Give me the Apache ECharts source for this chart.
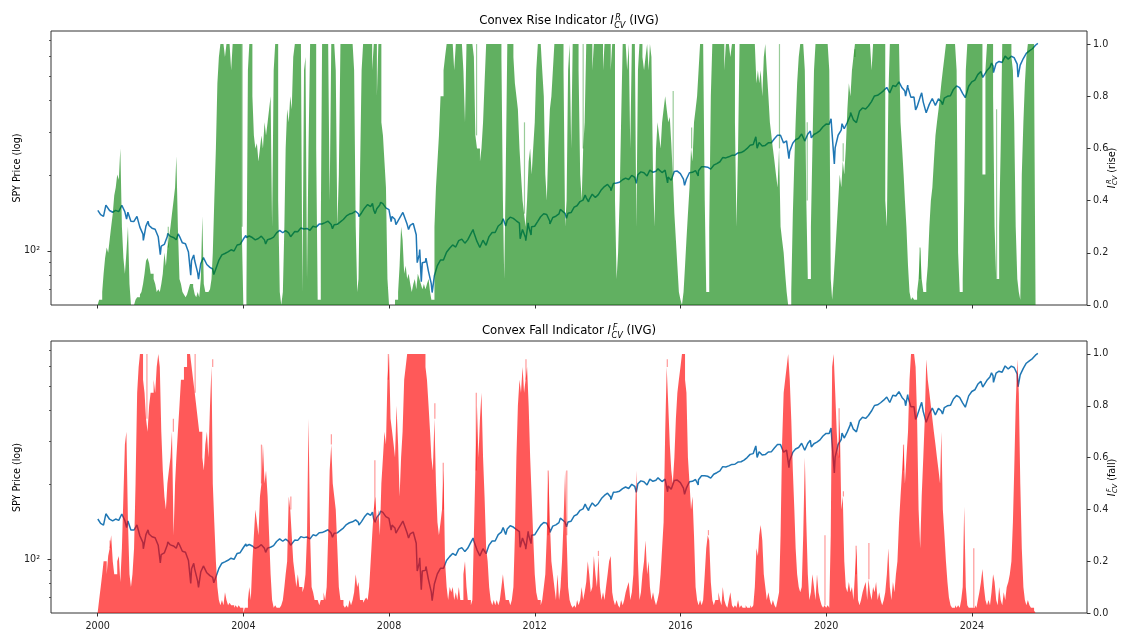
<!DOCTYPE html>
<html>
<head>
<meta charset="utf-8">
<script src="https://cdn.jsdelivr.net/npm/echarts@6/dist/echarts.min.js"></script>
<style>
  html, body { margin: 0; padding: 0; background: #ffffff; }
  #chart { width: 1125px; height: 631px; }
</style>
</head>
<body>
<div id="chart"></div>
<script>
// ---------------------------------------------------------------------------
// Data
// ---------------------------------------------------------------------------

// SPY month-end closes, Jan 2000 .. Sep 2025 (one row per year)
const spyMonthEnd = [
  [139.6, 137.4, 150.4, 145.1, 142.8, 145.3, 143.6, 152.3, 143.6, 142.8, 131.3, 131.2],
  [136.9, 124.5, 116.7, 125.7, 126.4, 123.3, 122.1, 114.0, 104.4, 106.1, 114.1, 114.3],
  [113.2, 110.8, 114.7, 107.7, 106.8, 98.9, 91.5, 91.5, 81.8, 88.8, 94.0, 88.2],
  [85.9, 84.6, 84.7, 91.6, 96.4, 97.6, 99.1, 101.0, 99.9, 105.6, 106.3, 111.3],
  [113.1, 114.7, 113.1, 110.7, 112.1, 114.5, 110.7, 110.9, 111.8, 113.5, 118.0, 120.9],
  [118.2, 120.6, 118.0, 115.8, 119.5, 119.2, 123.4, 122.3, 123.0, 120.9, 125.5, 124.5],
  [128.0, 128.1, 129.8, 131.5, 127.5, 127.3, 127.8, 130.7, 133.6, 138.0, 140.4, 141.6],
  [144.2, 140.9, 141.9, 148.3, 153.3, 150.4, 145.7, 147.6, 152.6, 154.6, 148.7, 146.2],
  [137.4, 133.8, 132.0, 138.3, 140.4, 128.0, 126.5, 128.8, 116.0, 96.8, 89.6, 90.2],
  [82.8, 73.9, 79.5, 87.3, 91.9, 91.9, 98.8, 102.5, 105.6, 103.6, 109.9, 111.4],
  [107.4, 110.7, 117.0, 118.8, 109.4, 103.2, 110.3, 105.3, 114.1, 118.5, 118.5, 125.8],
  [128.7, 133.2, 132.6, 136.5, 134.9, 132.0, 129.3, 121.9, 113.2, 125.5, 124.9, 125.5],
  [131.3, 137.0, 140.8, 139.9, 131.5, 136.1, 137.7, 140.6, 144.0, 141.4, 141.5, 142.4],
  [149.7, 151.6, 157.6, 159.7, 163.5, 160.4, 168.7, 163.7, 168.0, 175.8, 181.0, 184.7],
  [178.2, 186.3, 187.0, 188.3, 192.7, 195.7, 193.1, 200.7, 197.0, 201.7, 207.2, 205.5],
  [199.4, 210.7, 206.4, 208.5, 211.1, 205.9, 210.5, 197.7, 191.6, 207.9, 208.7, 203.9],
  [193.7, 193.6, 205.5, 206.3, 209.8, 209.5, 217.1, 217.4, 216.3, 212.6, 220.4, 223.5],
  [227.5, 236.5, 235.7, 238.1, 241.4, 241.8, 246.8, 247.5, 251.2, 257.2, 265.0, 266.9],
  [281.9, 271.7, 263.2, 264.5, 270.9, 271.3, 281.3, 290.3, 290.7, 270.6, 275.7, 249.9],
  [269.9, 278.7, 282.5, 294.0, 275.3, 293.0, 297.4, 292.5, 296.8, 303.3, 314.3, 321.9],
  [321.7, 296.3, 258.4, 290.5, 304.3, 308.4, 326.5, 349.3, 334.9, 326.5, 362.1, 373.9],
  [370.1, 380.4, 396.3, 417.3, 420.0, 428.1, 438.5, 451.6, 429.1, 459.3, 455.6, 475.0],
  [449.9, 436.6, 451.6, 412.0, 412.9, 377.3, 412.0, 395.2, 357.2, 386.2, 407.7, 382.4],
  [406.5, 396.3, 409.4, 415.9, 418.0, 443.3, 457.8, 450.4, 427.5, 418.2, 456.4, 475.3],
  [482.9, 508.1, 523.1, 502.0, 527.4, 544.2, 550.8, 563.7, 573.8, 568.6, 602.6, 586.1],
  [601.8, 594.2, 559.4, 554.5, 589.4, 617.9, 632.1, 645.1, 666.2]
];

// SPY closes on intra-month turning points (first and last session included)
const spyTurns = [
  ['2000-01-03', 145.4], ['2000-03-24', 152.6], ['2000-09-01', 152.4], ['2000-10-18', 134.1],
  ['2001-01-30', 137.5], ['2001-04-04', 110.2], ['2001-05-21', 131.4], ['2001-09-21', 96.6],
  ['2001-12-05', 117.5], ['2002-03-19', 117.0], ['2002-07-23', 79.9], ['2002-08-22', 96.3],
  ['2002-10-09', 77.1], ['2002-11-27', 94.0], ['2003-03-11', 80.4], ['2004-01-26', 115.3],
  ['2004-08-12', 106.6], ['2005-04-20', 113.9], ['2006-05-05', 132.5], ['2006-06-13', 122.7],
  ['2007-02-20', 146.0], ['2007-03-05', 137.3], ['2007-07-19', 155.0], ['2007-08-15', 141.0],
  ['2007-10-09', 156.5], ['2008-01-22', 131.0], ['2008-03-10', 127.4], ['2008-05-19', 142.6],
  ['2008-07-15', 121.8], ['2008-10-10', 89.7], ['2008-11-04', 101.3], ['2008-11-20', 75.3],
  ['2009-01-06', 93.5], ['2009-03-09', 68.1], ['2010-04-23', 121.8], ['2010-07-02', 102.2],
  ['2011-02-18', 134.4], ['2011-03-16', 125.8], ['2011-08-08', 111.8], ['2011-10-03', 109.9],
  ['2011-10-27', 129.6], ['2011-11-25', 115.7], ['2012-04-02', 141.8], ['2012-06-01', 128.2],
  ['2012-09-14', 146.6], ['2012-11-15', 135.2], ['2013-05-21', 167.2], ['2013-06-24', 157.1],
  ['2014-02-03', 174.2], ['2014-09-18', 201.0], ['2014-10-15', 186.4], ['2015-05-21', 213.1],
  ['2015-08-25', 187.3], ['2015-11-03', 210.9], ['2016-02-11', 182.9], ['2016-06-27', 199.6],
  ['2018-01-26', 286.6], ['2018-02-08', 257.6], ['2018-09-20', 293.6], ['2018-12-24', 234.3],
  ['2019-05-03', 294.0], ['2019-06-03', 274.6], ['2019-07-26', 302.0], ['2019-08-05', 283.8],
  ['2020-02-19', 338.3], ['2020-03-23', 223.0], ['2020-06-08', 323.2], ['2020-09-02', 358.0],
  ['2021-09-02', 453.1], ['2021-10-04', 428.6], ['2022-01-03', 477.7], ['2022-03-08', 416.3],
  ['2022-03-29', 461.6], ['2022-06-16', 366.7], ['2022-08-16', 429.7], ['2022-10-12', 356.6],
  ['2022-12-01', 407.4], ['2023-03-13', 385.4], ['2023-10-27', 410.7], ['2024-04-19', 495.2],
  ['2024-07-16', 564.9], ['2024-08-05', 517.4], ['2024-12-06', 607.8], ['2025-02-19', 612.9],
  ['2025-04-08', 496.5], ['2025-10-24', 677.3]
];

// Convex rise indicator, half-month steps (1st and 16th of each month), one row per year from 2000
const riseIndicator = [
  [0, 0.02, 0.02, 0.05, 0.12, 0.18, 0.22, 0.2, 0.25, 0.3, 0.35, 0.42, 0.45, 0.5, 0.48, 0.6, 0.3, 0.18, 0.12, 0.2, 0.3, 0.08, 0, 0],
  [0, 0.02, 0.03, 0.03, 0.04, 0.05, 0.08, 0.12, 0.17, 0.18, 0.16, 0.12, 0.12, 0.1, 0.08, 0.05, 0.06, 0.05, 0.08, 0.12, 0.2, 0.15, 0.22, 0.25],
  [0.3, 0.35, 0.4, 0.45, 0.57, 0.3, 0.1, 0.08, 0.05, 0.04, 0.03, 0.04, 0.06, 0.08, 0.08, 0.07, 0.04, 0.03, 0.05, 0.03, 0.1, 0.34, 0.08, 0.05],
  [0.05, 0.05, 0.06, 0.1, 0.2, 0.4, 0.6, 0.85, 0.95, 1, 1, 1, 0.95, 1, 1, 1, 0.9, 1, 1, 1, 1, 1, 1, 0.3],
  [0, 0, 0.05, 0.9, 1, 1, 0.8, 0.65, 0.6, 0.62, 0.55, 0.6, 0.65, 0.6, 0.7, 0.65, 0.7, 0.75, 0.8, 0.3, 0.9, 1, 1, 0.4],
  [0.05, 0, 0.05, 0.3, 0.6, 0.75, 0.7, 0.8, 0.75, 0.95, 1, 1, 1, 1, 1, 0.05, 0.9, 0.95, 0.1, 0.6, 1, 1, 1, 1],
  [0.6, 0.02, 0.02, 0.3, 1, 1, 1, 1, 1, 0.4, 1, 1, 1, 0.9, 0.3, 0.5, 1, 1, 1, 1, 1, 1, 1, 1],
  [1, 0.9, 0.3, 0.05, 0.1, 0.5, 0.9, 1, 1, 1, 1, 1, 1, 0.9, 1, 1, 0.8, 1, 1, 0.7, 0.65, 0.55, 0.45, 0.1],
  [0, 0, 0, 0, 0.02, 0.02, 0.05, 0.15, 0.3, 0.25, 0.12, 0.15, 0.1, 0.12, 0.08, 0.05, 0.08, 0.1, 0.06, 0.12, 0.1, 0.08, 0.06, 0.08],
  [0.06, 0.08, 0.1, 0.05, 0.02, 0.02, 0.3, 0.45, 0.55, 0.65, 0.8, 0.8, 0.9, 0.95, 1, 1, 1, 1, 1, 0.9, 1, 1, 1, 1],
  [1, 0.9, 0.7, 1, 1, 1, 1, 1, 0.95, 0.65, 0.6, 0.6, 0.55, 0.6, 0.7, 0.85, 1, 1, 1, 1, 1, 1, 1, 1],
  [1, 1, 0.95, 0.4, 0.1, 0.5, 1, 1, 1, 1, 0.95, 0.85, 0.8, 0.75, 0.6, 0.5, 0.4, 0.35, 0.3, 0.4, 0.55, 0.6, 0.5, 0.6],
  [0.7, 0.9, 1, 1, 1, 0.9, 0.8, 0.5, 0.4, 0.6, 0.75, 0.8, 0.9, 1, 1, 1, 1, 1, 1, 0.9, 0.3, 0.4, 0.9, 1],
  [0.6, 1, 1, 1, 1, 0.9, 0.5, 0.4, 0.6, 0.7, 1, 1, 1, 1, 0.9, 1, 1, 1, 1, 1, 1, 0.9, 1, 1],
  [1, 1, 0.9, 1, 1, 0.4, 0.1, 0.2, 0.4, 0.7, 1, 1, 1, 0.9, 1, 0.6, 1, 1, 1, 0.3, 0.9, 1, 1, 0.95],
  [0.9, 0.95, 1, 0.9, 1, 0.95, 0.5, 0.3, 0.6, 0.7, 0.65, 0.6, 0.7, 0.75, 0.8, 0.75, 0.7, 0.72, 0.62, 0.5, 0.35, 0.25, 0.15, 0.05],
  [0.02, 0, 0.05, 0.15, 0.25, 0.35, 0.45, 0.6, 0.55, 0.7, 0.75, 0.8, 0.9, 1, 1, 1, 0.4, 0.05, 0.05, 0.3, 0.8, 1, 1, 1],
  [1, 1, 1, 1, 1, 0.9, 1, 1, 1, 0.95, 1, 1, 0.7, 0.3, 0.6, 1, 1, 1, 1, 1, 1, 1, 1, 1],
  [1, 1, 0.85, 0.9, 0.85, 0.9, 0.8, 0.95, 1, 0.9, 0.8, 0.7, 0.65, 0.6, 0.55, 0.5, 0.45, 0.6, 0.3, 0.25, 0.2, 0.12, 0.05, 0],
  [0, 0.05, 0.35, 0.55, 0.7, 0.85, 0.95, 1, 1, 1, 0.9, 0.4, 0.1, 0.1, 0.3, 0.6, 0.9, 1, 1, 1, 1, 1, 1, 1],
  [1, 1, 0.9, 0.1, 0.02, 0.1, 0.2, 0.3, 0.4, 0.5, 0.45, 0.55, 0.5, 0.6, 0.75, 0.85, 0.8, 0.9, 0.95, 1, 1, 1, 1, 1],
  [1, 1, 1, 1, 1, 1, 0.9, 1, 1, 1, 1, 1, 1, 1, 1, 0.4, 0.3, 0.8, 1, 1, 1, 1, 1, 1],
  [1, 0.7, 0.6, 0.5, 0.4, 0.3, 0.15, 0.05, 0.02, 0.03, 0.02, 0.02, 0.05, 0.1, 0.22, 0.1, 0.05, 0.05, 0.08, 0.15, 0.3, 0.4, 0.45, 0.55],
  [0.65, 0.7, 0.75, 0.8, 0.85, 0.9, 0.95, 1, 1, 1, 1, 1, 1, 1, 0.9, 0.2, 0.05, 0.05, 0.1, 0.4, 0.9, 1, 1, 1],
  [1, 1, 1, 1, 1, 1, 1, 0.5, 0.5, 0.9, 1, 1, 1, 1, 0.8, 0.3, 0.1, 0.1, 0.3, 0.6, 1, 1, 1, 1],
  [1, 1, 0.95, 0.9, 0.7, 0.3, 0.1, 0.05, 0.02, 0.5, 0.7, 0.85, 0.95, 1, 1, 1, 1, 0.9]
];

// Isolated single-day readings of the rise indicator above the half-month level
const riseSpikes = [
  ['2001-12-10', 0.3], ['2003-12-20', 1.0], ['2013-05-01', 1.0], ['2016-04-22', 0.68],
  ['2018-09-20', 1.0], ['2020-06-20', 0.62], ['2020-10-15', 0.98], ['2022-07-30', 0.22],
  ['2015-10-20', 0.82], ['2011-09-20', 0.7], ['2004-03-28', 1.0], ['2010-05-28', 1.0],
  ['2019-06-25', 0.7], ['2024-09-05', 0.75]
];

// Convex fall indicator, same half-month steps
const fallIndicator = [
  [0, 0.05, 0.1, 0.15, 0.2, 0.2, 0.15, 0.22, 0.25, 0.3, 0.2, 0.15, 0.15, 0.2, 0.22, 0.12, 0.25, 0.45, 0.65, 0.7, 0.35, 0.15, 0.1, 0.15],
  [0.25, 0.5, 0.85, 0.95, 1, 1, 0.9, 0.85, 0.75, 0.7, 0.8, 0.85, 0.85, 0.9, 0.85, 0.95, 1, 0.95, 0.7, 0.55, 0.45, 0.4, 0.5, 0.55],
  [0.6, 0.7, 0.3, 0.5, 0.6, 0.7, 0.8, 0.9, 0.9, 0.95, 0.95, 1, 1, 1, 0.95, 0.9, 0.85, 0.8, 0.75, 0.7, 0.7, 0.6, 0.55, 0.65],
  [0.7, 0.6, 0.8, 0.95, 0.5, 0.35, 0.2, 0.1, 0.05, 0.03, 0.05, 0.03, 0.08, 0.05, 0.03, 0.04, 0.03, 0.03, 0.02, 0.03, 0.02, 0.03, 0.02, 0.02],
  [0, 0.02, 0.02, 0.05, 0.1, 0.05, 0.2, 0.3, 0.4, 0.35, 0.3, 0.45, 0.5, 0.65, 0.5, 0.55, 0.45, 0.3, 0.15, 0.05, 0.02, 0.03, 0.02, 0.02],
  [0.02, 0.03, 0.05, 0.1, 0.15, 0.2, 0.45, 0.4, 0.3, 0.2, 0.15, 0.1, 0.15, 0.1, 0.1, 0.08, 0.1, 0.15, 0.3, 0.75, 0.3, 0.1, 0.08, 0.05],
  [0.05, 0.05, 0.03, 0.05, 0.05, 0.08, 0.05, 0.1, 0.3, 0.55, 0.65, 0.5, 0.45, 0.4, 0.25, 0.1, 0.05, 0.05, 0.03, 0.02, 0.03, 0.02, 0.05, 0.03],
  [0.05, 0.08, 0.15, 0.1, 0.12, 0.05, 0.05, 0.04, 0.05, 0.06, 0.05, 0.1, 0.2, 0.3, 0.4, 0.45, 0.35, 0.4, 0.3, 0.5, 0.6, 0.7, 0.65, 0.9],
  [1, 0.75, 0.7, 0.65, 0.6, 0.8, 0.65, 0.45, 0.6, 0.7, 0.9, 0.95, 1, 1, 1, 1, 1, 1, 1, 1, 1, 1, 1, 1],
  [0.95, 0.9, 0.8, 0.7, 0.6, 0.55, 0.75, 0.5, 0.35, 0.3, 0.35, 0.4, 0.55, 0.2, 0.1, 0.05, 0.1, 0.08, 0.1, 0.05, 0.08, 0.05, 0.1, 0.05],
  [0.05, 0.15, 0.2, 0.1, 0.05, 0.05, 0.03, 0.05, 0.3, 0.55, 0.8, 0.6, 0.75, 0.85, 0.6, 0.45, 0.25, 0.2, 0.1, 0.05, 0.03, 0.05, 0.03, 0.05],
  [0.03, 0.05, 0.1, 0.15, 0.1, 0.05, 0.05, 0.05, 0.03, 0.05, 0.1, 0.3, 0.6, 0.8, 0.9, 0.85, 0.95, 0.85, 0.9, 0.95, 0.8, 0.6, 0.45, 0.3],
  [0.15, 0.08, 0.05, 0.05, 0.03, 0.05, 0.1, 0.15, 0.3, 0.55, 0.35, 0.2, 0.15, 0.1, 0.05, 0.15, 0.05, 0.1, 0.2, 0.35, 0.55, 0.3, 0.1, 0.05],
  [0.03, 0.02, 0.03, 0.02, 0.05, 0.03, 0.05, 0.1, 0.05, 0.08, 0.12, 0.2, 0.15, 0.08, 0.1, 0.22, 0.15, 0.1, 0.22, 0.1, 0.05, 0.08, 0.05, 0.1],
  [0.15, 0.2, 0.22, 0.08, 0.05, 0.03, 0.05, 0.03, 0.02, 0.05, 0.03, 0.05, 0.08, 0.1, 0.12, 0.05, 0.08, 0.15, 0.35, 0.55, 0.2, 0.05, 0.08, 0.15],
  [0.2, 0.28, 0.15, 0.2, 0.1, 0.05, 0.08, 0.05, 0.03, 0.05, 0.08, 0.15, 0.25, 0.35, 0.7, 0.95, 0.8, 0.65, 0.55, 0.5, 0.6, 0.75, 0.85, 0.9],
  [0.95, 1, 1, 0.9, 0.85, 0.6, 0.5, 0.4, 0.45, 0.3, 0.1, 0.05, 0.03, 0.05, 0.03, 0.05, 0.15, 0.25, 0.3, 0.28, 0.12, 0.05, 0.03, 0.05],
  [0.05, 0.08, 0.05, 0.03, 0.1, 0.05, 0.03, 0.02, 0.05, 0.08, 0.03, 0.02, 0.03, 0.02, 0.05, 0.02, 0.03, 0.02, 0.02, 0.03, 0.02, 0.02, 0.03, 0.02],
  [0.03, 0.1, 0.25, 0.22, 0.3, 0.34, 0.28, 0.15, 0.1, 0.05, 0.08, 0.05, 0.03, 0.05, 0.03, 0.02, 0.05, 0.08, 0.3, 0.65, 0.85, 0.9, 0.95, 1],
  [0.9, 0.75, 0.55, 0.4, 0.25, 0.15, 0.1, 0.08, 0.1, 0.3, 0.6, 0.35, 0.15, 0.05, 0.08, 0.15, 0.1, 0.05, 0.15, 0.08, 0.05, 0.03, 0.02, 0.03],
  [0.02, 0.03, 0.02, 0.3, 0.95, 1, 0.85, 0.7, 0.6, 0.75, 0.4, 0.45, 0.2, 0.1, 0.08, 0.12, 0.08, 0.1, 0.05, 0.15, 0.25, 0.05, 0.03, 0.05],
  [0.08, 0.1, 0.12, 0.05, 0.13, 0.08, 0.05, 0.1, 0.08, 0.12, 0.05, 0.08, 0.05, 0.03, 0.05, 0.08, 0.15, 0.25, 0.1, 0.05, 0.12, 0.08, 0.15, 0.2],
  [0.35, 0.45, 0.55, 0.65, 0.5, 0.6, 0.7, 0.9, 1, 1, 1, 0.95, 0.75, 0.4, 0.25, 0.45, 0.6, 0.75, 0.98, 0.9, 0.85, 0.8, 0.75, 0.7],
  [0.65, 0.6, 0.55, 0.5, 0.7, 0.4, 0.3, 0.2, 0.12, 0.06, 0.03, 0.02, 0.02, 0.03, 0.02, 0.03, 0.02, 0.05, 0.1, 0.41, 0.1, 0.03, 0.02, 0.02],
  [0.02, 0.02, 0.03, 0.02, 0.05, 0.08, 0.12, 0.17, 0.1, 0.05, 0.03, 0.05, 0.03, 0.08, 0.15, 0.12, 0.05, 0.03, 0.1, 0.05, 0.03, 0.08, 0.05, 0.1],
  [0.12, 0.15, 0.2, 0.35, 0.55, 0.8, 0.98, 0.85, 0.5, 0.25, 0.1, 0.05, 0.03, 0.05, 0.03, 0.02, 0.02, 0.01]
];

// Isolated single-day readings of the fall indicator above the half-month level
const fallSpikes = [
  ['2000-05-05', 0.28], ['2002-01-30', 0.75], ['2003-02-28', 0.98], ['2004-07-01', 0.65],
  ['2005-04-22', 0.45], ['2006-06-02', 0.69], ['2007-08-12', 0.59], ['2007-12-25', 1.0],
  ['2009-04-05', 0.81], ['2009-06-28', 0.58], ['2010-05-25', 0.85], ['2011-10-05', 0.98],
  ['2012-05-15', 0.55], ['2012-11-18', 0.55], ['2013-10-01', 0.24], ['2015-08-22', 0.98],
  ['2016-10-08', 0.32], ['2018-03-25', 0.34], ['2020-05-10', 0.79],
  ['2020-06-22', 0.47], ['2020-10-28', 0.26], ['2022-02-15', 0.65], ['2022-10-05', 0.98],
  ['2023-03-05', 0.69], ['2023-10-20', 0.41], ['2002-09-05', 1.0], ['2001-05-10', 1.0],
  ['2019-12-20', 0.3], ['2021-03-05', 0.27], ['2024-01-20', 0.25]
];

// Axis ticks and extents
const yearTicks = [2000, 2004, 2008, 2012, 2016, 2020, 2024];
const indicatorTicks = [0, 0.2, 0.4, 0.6, 0.8, 1.0];
const priceMajorTicks = [100];
const priceMinorTicks = [60, 70, 80, 90, 200, 300, 400, 500, 600, 700];
const yearAxisRange = [1998.72, 2027.16];

// ---------------------------------------------------------------------------
// Helpers
// ---------------------------------------------------------------------------
function decimalYear(y, m, d) {
  const t = Date.UTC(y, m - 1, d);
  const a = Date.UTC(y, 0, 1), b = Date.UTC(y + 1, 0, 1);
  return y + (t - a) / (b - a);
}
function parseDay(s) {
  const p = s.split('-').map(Number);
  return decimalYear(p[0], p[1], p[2]);
}
function halfMonthStart(year, slot) {
  const y = year + Math.floor(slot / 24), k = slot % 24;
  return decimalYear(y, Math.floor(k / 2) + 1, k % 2 ? 16 : 1);
}

// price points: month-end closes merged with turning points, sorted by date
const pricePoints = [];
spyMonthEnd.forEach((row, r) => {
  row.forEach((v, m) => {
    const y = 2000 + r;
    const lastDay = new Date(Date.UTC(y, m + 1, 0)).getUTCDate();
    pricePoints.push([decimalYear(y, m + 1, lastDay), v]);
  });
});
spyTurns.forEach(([d, v]) => pricePoints.push([parseDay(d), v]));
pricePoints.sort((a, b) => a[0] - b[0]);

// step-area points for a half-month indicator table
function indicatorPoints(table) {
  const pts = [];
  let lastYear = 2000, lastSlot = 0;
  table.forEach((row, r) => {
    row.forEach((v, k) => {
      pts.push([halfMonthStart(2000 + r, k), v]);
      lastYear = 2000 + r; lastSlot = k + 1;
    });
  });
  pts.push([halfMonthStart(lastYear, lastSlot), 0]);
  return pts;
}
// half-month level in force on a given date
function levelAt(points, x) {
  let v = 0;
  for (let i = 0; i < points.length && points[i][0] <= x; i++) v = points[i][1];
  return v;
}
// single-day readings: drawn from the half-month level up to the reading
function spikeSegments(spikes, points) {
  return spikes
    .map(([d, v]) => { const x = parseDay(d); return [x, levelAt(points, x), v]; })
    .filter(s => s[2] > s[1]);
}
const risePoints = indicatorPoints(riseIndicator);
const fallPoints = indicatorPoints(fallIndicator);
const riseSpikeSegs = spikeSegments(riseSpikes, risePoints);
const fallSpikeSegs = spikeSegments(fallSpikes, fallPoints);

// price axis extent: 5% padding in log space
const logs = pricePoints.map(p => Math.log10(p[1]));
const lMin = Math.min.apply(null, logs), lMax = Math.max.apply(null, logs);
const lPad = 0.05 * (lMax - lMin);
const pMin = Math.pow(10, lMin - lPad), pMax = Math.pow(10, lMax + lPad);

// ---------------------------------------------------------------------------
// Text with super/subscripts built from plain text elements
// ---------------------------------------------------------------------------
const FONT = 'DejaVu Sans';
const measureCtx = document.createElement('canvas').getContext('2d');
function textWidth(t, size, italic) {
  measureCtx.font = (italic ? 'italic ' : '') + size + 'px "' + FONT + '"';
  return measureCtx.measureText(t).width;
}
function textEl(t, x, y, size, italic) {
  return {
    type: 'text', x: x, y: y, silent: true,
    style: {
      text: t, fill: '#000', fontSize: size, fontFamily: FONT,
      fontStyle: italic ? 'italic' : 'normal',
      align: 'left', verticalAlign: 'middle',
      textAlign: 'left', textVerticalAlign: 'middle'
    }
  };
}
function mathText(parts, size, cx, cy, rotation) {
  const small = size * 0.7;
  const children = [];
  let x = 0;
  parts.forEach(p => {
    if (p.sup !== undefined) {
      const x0 = x + size * 0.04;
      const w1 = textWidth(p.sup, small, true) + size * 0.1;
      const w2 = textWidth(p.sub, small, true);
      children.push(textEl(p.sup, x0 + size * 0.1, -size * 0.27, small, true));
      children.push(textEl(p.sub, x0, size * 0.38, small, true));
      x = x0 + Math.max(w1, w2);
    } else {
      children.push(textEl(p.t, x, 0, size, !!p.italic));
      x += textWidth(p.t, size, !!p.italic);
    }
  });
  children.forEach(c => { c.x -= x / 2; });
  return { type: 'group', x: cx, y: cy, rotation: rotation || 0, silent: true, children: children };
}

// ---------------------------------------------------------------------------
// Chart
// ---------------------------------------------------------------------------
const PLOT_LEFT = 51, PLOT_WIDTH = 1036;
const panels = [
  { top: 31, height: 274, letter: 'R', word: 'Rise', side: ' (rise)', color: '#008000', opacity: 0.62,
    points: risePoints, spikes: riseSpikeSegs },
  { top: 341, height: 273, letter: 'F', word: 'Fall', side: ' (fall)', color: '#ff0000', opacity: 0.65,
    points: fallPoints, spikes: fallSpikeSegs }
];

const TICK_COLOR = '#333';
const LABEL_STYLE = { color: '#222', fontFamily: FONT, fontSize: 9.6 };

const grid = [], xAxis = [], yAxis = [], series = [], graphic = [];
panels.forEach((p, i) => {
  grid.push({
    left: PLOT_LEFT, top: p.top, width: PLOT_WIDTH, height: p.height,
    show: true, borderColor: TICK_COLOR, borderWidth: 1, backgroundColor: 'transparent'
  });
  xAxis.push({
    type: 'value', gridIndex: i, min: yearAxisRange[0], max: yearAxisRange[1],
    axisLine: { show: false }, splitLine: { show: false },
    axisTick: { show: true, length: 3.5, lineStyle: { color: TICK_COLOR, width: 1 }, customValues: yearTicks },
    axisLabel: Object.assign({
      show: i === 1, margin: 8, customValues: yearTicks,
      formatter: v => String(Math.round(v))
    }, LABEL_STYLE)
  });
  // price (log), left
  yAxis.push({
    type: 'log', logBase: 10, gridIndex: i, min: pMin, max: pMax, position: 'left',
    axisLine: { show: false }, splitLine: { show: false }, minorTick: { show: false },
    axisTick: { show: true, length: 3.5, lineStyle: { color: TICK_COLOR, width: 1 }, customValues: priceMajorTicks },
    axisLabel: Object.assign({ margin: 11, customValues: priceMajorTicks, formatter: () => '10²' }, LABEL_STYLE)
  });
  // indicator, right
  yAxis.push({
    type: 'value', gridIndex: i, min: 0, max: 1.05, position: 'right',
    axisLine: { show: false }, splitLine: { show: false },
    axisTick: { show: true, length: 3.5, lineStyle: { color: TICK_COLOR, width: 1 }, customValues: indicatorTicks },
    axisLabel: Object.assign({ margin: 6, customValues: indicatorTicks, formatter: v => v.toFixed(1) }, LABEL_STYLE)
  });
  // minor ticks of the price axis
  yAxis.push({
    type: 'log', logBase: 10, gridIndex: i, min: pMin, max: pMax, position: 'left',
    axisLine: { show: false }, splitLine: { show: false },
    axisTick: { show: true, length: 2, lineStyle: { color: TICK_COLOR, width: 0.8 }, customValues: priceMinorTicks },
    axisLabel: { show: false }
  });

  series.push({
    name: 'SPY', type: 'line', xAxisIndex: i, yAxisIndex: i * 3,
    data: pricePoints, showSymbol: false, symbol: 'none', z: 2,
    lineStyle: { color: '#1f77b4', width: 1.5 }, silent: true
  });
  series.push({
    name: 'I_CV ' + p.word, type: 'line', xAxisIndex: i, yAxisIndex: i * 3 + 1,
    data: p.points, step: 'end', showSymbol: false, symbol: 'none', z: 3,
    lineStyle: { width: 0, opacity: 0 },
    areaStyle: { color: p.color, opacity: p.opacity, origin: 'start' },
    silent: true
  });
  const spikeColor = p.color;
  series.push({
    name: 'I_CV ' + p.word + ' (daily)', type: 'custom', xAxisIndex: i, yAxisIndex: i * 3 + 1,
    data: p.spikes, z: 3, silent: true, clip: true,
    encode: { x: 0, y: [1, 2] },
    renderItem: function (params, api) {
      const base = api.coord([api.value(0), api.value(1)]);
      const top = api.coord([api.value(0), api.value(2)]);
      return {
        type: 'rect',
        shape: { x: base[0] - 0.6, y: top[1], width: 1.2, height: base[1] - top[1] },
        style: { fill: spikeColor, opacity: 0.4 }
      };
    }
  });

  const midY = p.top + p.height / 2;
  graphic.push(mathText(
    [{ t: 'Convex ' + p.word + ' Indicator ' }, { t: 'I', italic: true }, { sup: p.letter, sub: 'CV' }, { t: ' (IVG)' }],
    11.7, PLOT_LEFT + PLOT_WIDTH / 2, p.top - 10, 0));
  graphic.push(mathText([{ t: 'SPY Price (log)' }], 9.6, 17, midY, Math.PI / 2));
  graphic.push(mathText(
    [{ t: 'I', italic: true }, { sup: p.letter, sub: 'CV' }, { t: p.side }],
    9.6, 1112, midY, Math.PI / 2));
});

const chart = echarts.init(document.getElementById('chart'), null, { renderer: 'canvas' });
chart.setOption({
  animation: false,
  backgroundColor: '#ffffff',
  grid: grid,
  xAxis: xAxis,
  yAxis: yAxis,
  series: series,
  graphic: graphic
});
</script>
</body>
</html>
